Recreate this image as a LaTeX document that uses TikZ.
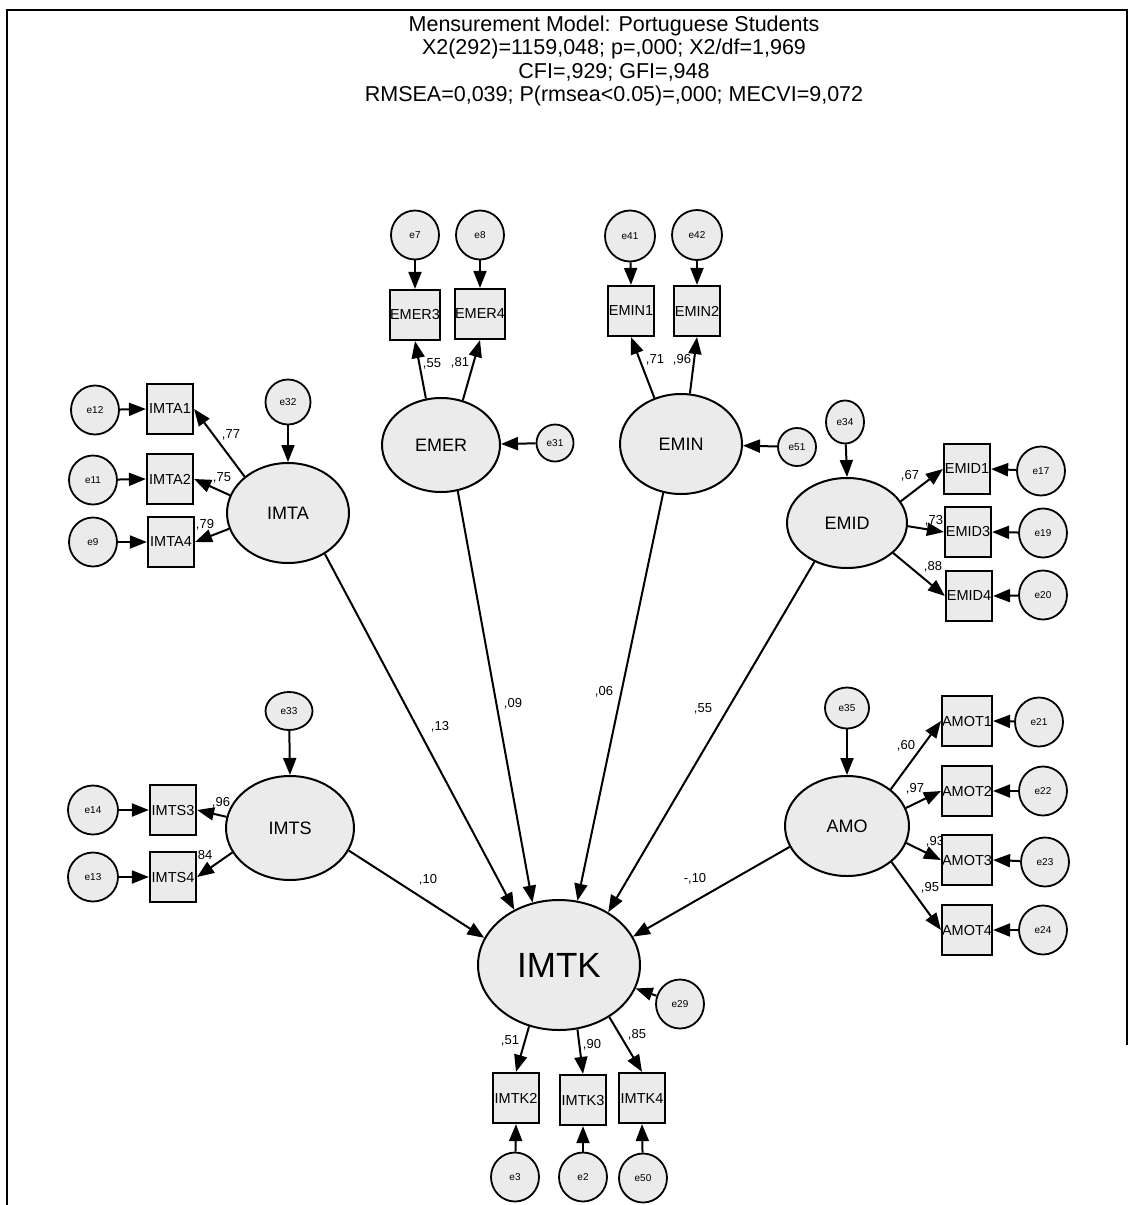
\documentclass[tikz,border=0pt]{standalone}
\usepackage{fontspec}
\setmainfont{Liberation Sans}
\usetikzlibrary{shapes.geometric,arrows.meta}
\definecolor{fillc}{RGB}{235,235,235}
\begin{document}
\begin{tikzpicture}[x=1pt,y=-1pt,
  lat/.style={ellipse, draw, line width=2pt, fill=fillc, inner sep=0pt, font=\fontsize{18}{20}\selectfont},
  obs/.style={rectangle, draw, line width=2.2pt, fill=fillc, inner sep=0pt, minimum width=46pt, minimum height=50pt, font=\fontsize{14.5}{16}\selectfont},
  err/.style={ellipse, draw, line width=1.8pt, fill=fillc, inner sep=0pt, minimum width=48pt, minimum height=49pt, font=\fontsize{10}{11}\selectfont},
  coef/.style={inner sep=0pt, font=\fontsize{13}{14}\selectfont},
  ttl/.style={inner sep=0pt, anchor=base, font=\fontsize{21.5}{24}\selectfont},
  arr/.style={line width=2pt, -{Triangle[length=17pt,width=13pt]}}]
\useasboundingbox (0,0) rectangle (1131,1205);
\draw[line width=2.8pt] (7,1205) -- (7,10) -- (1127,10) -- (1127,1045);
% title
\node[ttl] (t1) at (614,31) {Mensurement Model: Portuguese Students};
\node[ttl] (t2) at (614,54.5) {X2(292)=1159,048; p=,000; X2/df=1,969};
\node[ttl] (t3) at (614,78) {CFI=,929; GFI=,948};
\node[ttl] (t4) at (614,101.5) {RMSEA=0,039; P(rmsea<0.05)=,000; MECVI=9,072};
% coefficient labels
\node[coef] (c1) at (231,435) {,77};
\node[coef] (c2) at (222,478) {,75};
\node[coef] (c3) at (205,525) {,79};
\node[coef] (c4) at (432,364) {,55};
\node[coef] (c5) at (460,363) {,81};
\node[coef] (c6) at (655,360) {,71};
\node[coef] (c7) at (682,360) {,96};
\node[coef] (c8) at (910,476) {,67};
\node[coef] (c9) at (934,521) {,73};
\node[coef] (c10) at (933,567) {,88};
\node[coef] (c11) at (221,803) {,96};
\node[coef] (c12) at (205,855) {84};
\node[coef] (c13) at (906,746) {,60};
\node[coef] (c14) at (915,789) {,97};
\node[coef] (c15) at (935,842) {,93};
\node[coef] (c16) at (930,888) {,95};
\node[coef] (c17) at (695,879) {-,10};
\node[coef] (c18) at (510,1041) {,51};
\node[coef] (c19) at (592,1045) {,90};
\node[coef] (c20) at (637,1035) {,85};
\node[coef] (c21) at (440,727) {,13};
\node[coef] (c22) at (513,704) {,09};
\node[coef] (c23) at (604,692) {,06};
\node[coef] (c24) at (703,709) {,55};
\node[coef] (c25) at (428,880) {,10};
% latent variables
\node[lat, minimum width=122pt, minimum height=100pt] (IMTA) at (288,513) {IMTA};
\node[lat, minimum width=118pt, minimum height=94pt] (EMER) at (441,445) {EMER};
\node[lat, minimum width=122pt, minimum height=100pt] (EMIN) at (681,444) {EMIN};
\node[lat, minimum width=120pt, minimum height=90pt] (EMID) at (847,523) {EMID};
\node[lat, minimum width=128pt, minimum height=104pt] (IMTS) at (290,828) {IMTS};
\node[lat, minimum width=124pt, minimum height=100pt] (AMO) at (847,826) {AMO};
\node[lat, minimum width=162pt, minimum height=130pt, font=\fontsize{35}{40}\selectfont] (IMTK) at (559,965) {IMTK};
% observed variables
\node[obs] (IMTA1) at (170,409) {IMTA1};
\node[obs] (IMTA2) at (170,479) {IMTA2};
\node[obs] (IMTA4) at (171,542) {IMTA4};
\node[obs] (EMER3) at (415,315) {EMER3};
\node[obs] (EMER4) at (480,314) {EMER4};
\node[obs] (EMIN1) at (631,311) {EMIN1};
\node[obs] (EMIN2) at (697,311) {EMIN2};
\node[obs] (EMID1) at (967,469) {EMID1};
\node[obs] (EMID3) at (968,532) {EMID3};
\node[obs] (EMID4) at (969,596) {EMID4};
\node[obs] (IMTS3) at (173,810) {IMTS3};
\node[obs] (IMTS4) at (173,877) {IMTS4};
\node[obs] (AMOT1) at (967,721) {AMOT1};
\node[obs] (AMOT2) at (967,791) {AMOT2};
\node[obs] (AMOT3) at (967,860) {AMOT3};
\node[obs] (AMOT4) at (967,930) {AMOT4};
\node[obs] (IMTK2) at (516,1098) {IMTK2};
\node[obs] (IMTK3) at (583,1100) {IMTK3};
\node[obs] (IMTK4) at (642,1098) {IMTK4};
% error terms
\node[err] (e12) at (95,410) {e12};
\node[err] (e11) at (93,480) {e11};
\node[err] (e9) at (93,542) {e9};
\node[err, minimum width=45pt, minimum height=45pt] (e32) at (288,402) {e32};
\node[err] (e7) at (415,235) {e7};
\node[err] (e8) at (480,235) {e8};
\node[err, minimum width=37pt, minimum height=37pt] (e31) at (555,443) {e31};
\node[err, minimum width=50pt, minimum height=51pt] (e41) at (630,236) {e41};
\node[err, minimum width=50pt, minimum height=50pt] (e42) at (697,235) {e42};
\node[err, minimum width=38pt, minimum height=38pt] (e51) at (797,447) {e51};
\node[err, minimum width=38pt, minimum height=43pt] (e34) at (845,422) {e34};
\node[err] (e17) at (1041,471) {e17};
\node[err] (e19) at (1043,533) {e19};
\node[err] (e20) at (1043,595) {e20};
\node[err, minimum width=50pt] (e14) at (93,810) {e14};
\node[err, minimum width=50pt] (e13) at (93,877) {e13};
\node[err, minimum width=47pt, minimum height=38pt] (e33) at (289,711) {e33};
\node[err, minimum width=44pt, minimum height=41pt] (e35) at (847,708) {e35};
\node[err] (e21) at (1039,722) {e21};
\node[err] (e22) at (1043,791) {e22};
\node[err] (e23) at (1045,862) {e23};
\node[err] (e24) at (1043,930) {e24};
\node[err] (e29) at (680,1004) {e29};
\node[err] (e3) at (515,1177) {e3};
\node[err] (e2) at (583,1177) {e2};
\node[err] (e50) at (643,1178) {e50};
% structural paths
\draw[arr] (IMTA.-48) -- (IMTK.129);
\draw[arr] (EMER.-70) -- (IMTK.113);
\draw[arr] (EMIN.-110) -- (IMTK.74);
\draw[arr] (EMID.-130) -- (IMTK.47);
\draw[arr] (IMTS.-21) -- (IMTK.160);
\draw[arr] (AMO.-160) -- (IMTK.21);
% loadings
\draw[arr] (IMTA.140) -- (IMTA1.east);
\draw[arr] (IMTA.163) -- (IMTA2.east);
\draw[arr] (IMTA.-165) -- (IMTA4.east);
\draw[arr] (EMER.108) -- (EMER3.south);
\draw[arr] (EMER.64) -- (EMER4.south);
\draw[arr] (EMIN.120) -- (EMIN1.south);
\draw[arr] (EMIN.80) -- (EMIN2.south);
\draw[arr] (EMID.22) -- (EMID1.west);
\draw[arr] (EMID.-3) -- (EMID3.west);
\draw[arr] (EMID.-33) -- (EMID4.west);
\draw[arr] (IMTS.170) -- (IMTS3.east);
\draw[arr] (IMTS.-157) -- (IMTS4.east);
\draw[arr] (AMO.40) -- (AMOT1.west);
\draw[arr] (AMO.17) -- (AMOT2.west);
\draw[arr] (AMO.-16) -- (AMOT3.west);
\draw[arr] (AMO.-39) -- (AMOT4.west);
\draw[arr] (IMTK.-116) -- (IMTK2.north);
\draw[arr] (IMTK.-74) -- (IMTK3.north);
\draw[arr] (IMTK.-46) -- (IMTK4.north);
% measurement errors
\draw[arr] (e12) -- (IMTA1.west);
\draw[arr] (e11) -- (IMTA2.west);
\draw[arr] (e9) -- (IMTA4.west);
\draw[arr] (e7) -- (EMER3.north);
\draw[arr] (e8) -- (EMER4.north);
\draw[arr] (e41) -- (EMIN1.north);
\draw[arr] (e42) -- (EMIN2.north);
\draw[arr] (e17) -- (EMID1.east);
\draw[arr] (e19) -- (EMID3.east);
\draw[arr] (e20) -- (EMID4.east);
\draw[arr] (e14) -- (IMTS3.west);
\draw[arr] (e13) -- (IMTS4.west);
\draw[arr] (e21) -- (AMOT1.east);
\draw[arr] (e22) -- (AMOT2.east);
\draw[arr] (e23) -- (AMOT3.east);
\draw[arr] (e24) -- (AMOT4.east);
\draw[arr] (e3) -- (IMTK2.south);
\draw[arr] (e2) -- (IMTK3.south);
\draw[arr] (e50) -- (IMTK4.south);
% disturbances
\draw[arr] (e32) -- (IMTA.north);
\draw[arr] (e31) -- (EMER);
\draw[arr] (e51) -- (EMIN);
\draw[arr] (e34) -- (EMID.north);
\draw[arr] (e33) -- (IMTS.north);
\draw[arr] (e35) -- (AMO.north);
\draw[arr] (e29) -- (IMTK.-17);
\end{tikzpicture}
\end{document}
